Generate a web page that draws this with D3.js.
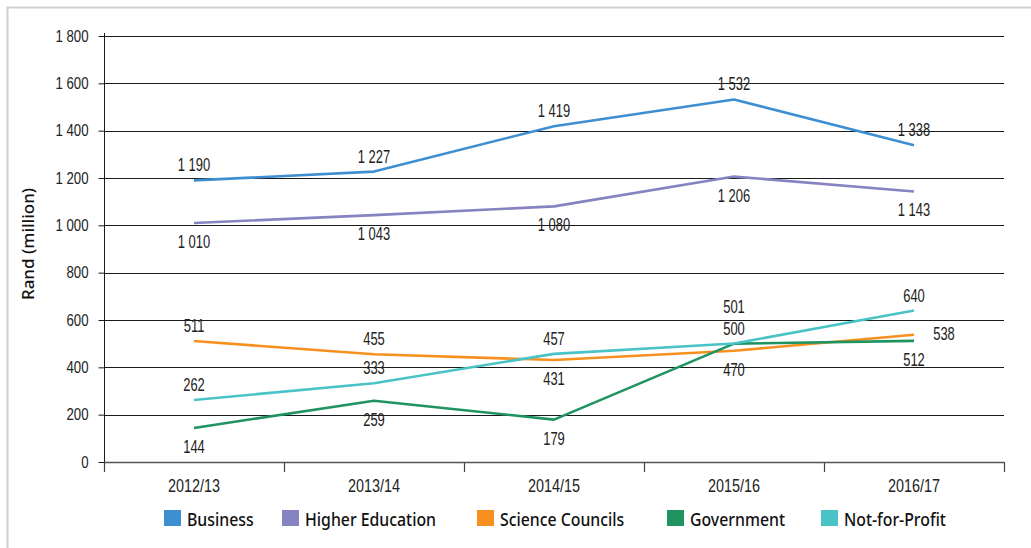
<!DOCTYPE html>
<html><head><meta charset="utf-8">
<script src="https://cdn.jsdelivr.net/npm/d3@7"></script>
<style>
body{margin:0;background:#fff;}
</style></head>
<body><svg id="c" width="1031" height="548"></svg>
<script>
const categories = ["2012/13","2013/14","2014/15","2015/16","2016/17"];
const seriesNames = ["Business","Higher Education","Science Councils","Government","Not-for-Profit"];
const business = [1190,1227,1419,1532,1338];
const higherEducation = [1010,1043,1080,1206,1143];
const scienceCouncils = [511,455,431,470,538];
const government = [144,259,179,500,512];
const notForProfit = [262,333,457,501,640];
const yTicks = [0,200,400,600,800,1000,1200,1400,1600,1800];
// label placement: "a" above, "A" high above, "b" below, "r" right
const labelPos = [
  ["a","a","a","a","a"],
  ["b","b","b","b","b"],
  ["a","a","b","b","r"],
  ["b","b","b","a","b"],
  ["a","a","a","A","a"]
];
const colors = ["#3d8fd1","#8683c1","#f7901e","#1f9460","#4ac3c6"];
const allSeries = [business,higherEducation,scienceCouncils,government,notForProfit];

(function(){
const svg = d3.select("#c");
const fmt = v => d3.format(",")(v).replace(/,/g," ");
const narrow = '"Liberation Sans",Arial,sans-serif';
const SX = 0.72;

// frame
svg.append("path").attr("d","M7.5,1100 V7.5 H1100").attr("fill","none").attr("stroke","#cfcfcf").attr("stroke-width",2);

const pl=104, pr=1004, pt=36, pb=462;
const x = d3.scaleBand().domain(categories).range([pl,pr]);
const y = d3.scaleLinear().domain([0,1800]).range([pb,pt]);

// grid
svg.append("g").selectAll("line").data(yTicks.slice(1)).join("line")
  .attr("x1",pl).attr("x2",pr).attr("y1",d=>Math.round(y(d))+0.5).attr("y2",d=>Math.round(y(d))+0.5)
  .attr("stroke","#1a1a1a").attr("stroke-width",1);

// y axis
const YS = 0.8;
const ya = svg.append("g").attr("transform",`translate(${pl+0.5},0)`)
  .call(d3.axisLeft(y).tickValues(yTicks).tickSize(6).tickFormat(fmt));
ya.select(".domain").attr("stroke","#1a1a1a").attr("d",`M0,${pt-3}V${pb}`);
ya.selectAll(".tick line").attr("stroke","#1a1a1a");
ya.selectAll(".tick text").attr("font-size",16.5).attr("font-family",narrow).attr("fill","#222")
  .attr("x",-16/YS).attr("transform",`scale(${YS},1)`);

// x axis
const xa = svg.append("g").attr("transform",`translate(0,${pb+0.5})`)
  .call(d3.axisBottom(x).tickSize(0).tickPadding(17));
xa.select(".domain").attr("stroke","#555").attr("stroke-width",1.5).attr("d",`M${pl},0H${pr}`);
xa.selectAll(".tick text").attr("font-size",18).attr("font-family",narrow).attr("fill","#222")
  .attr("transform",`scale(0.8,1)`);
const bounds = categories.map(c=>x(c)).concat([pr]);
svg.append("g").selectAll("line").data(bounds).join("line")
  .attr("x1",d=>d+0.5).attr("x2",d=>d+0.5).attr("y1",pb).attr("y2",pb+10)
  .attr("stroke","#444").attr("stroke-width",1.2);

// y title
svg.append("text").attr("transform","translate(34,244) rotate(-90)")
  .attr("text-anchor","middle").attr("font-family","'Noto Sans',sans-serif").attr("font-size",17).attr("font-weight",500)
  .attr("fill","#111").text("Rand (million)");

// lines
const cx = c => x(c)+x.bandwidth()/2;
const line = d3.line().x((d,i)=>cx(categories[i])).y(d=>y(d));
svg.append("g").selectAll("path").data(allSeries).join("path")
  .attr("d",line).attr("fill","none").attr("stroke",(d,i)=>colors[i]).attr("stroke-width",2.6)
  .attr("stroke-linejoin","round");

// labels
const off = {a:-9, A:-30, b:25, r:5};
allSeries.forEach((s,si)=>{
  svg.append("g").selectAll("text").data(s).join("text")
    .attr("transform",(d,i)=>{
      const p=labelPos[si][i];
      const lx = cx(categories[i]) + (p==="r"?30:0);
      const ly = y(d)+off[p];
      return `translate(${lx},${ly}) scale(${SX},1)`;})
    .attr("text-anchor","middle").attr("font-family",narrow).attr("font-size",18).attr("fill","#222")
    .text(d=>fmt(d));
});

// legend
const legX = [164,282,477,667,821];
const lg = svg.append("g").selectAll("g").data(seriesNames).join("g")
  .attr("transform",(d,i)=>`translate(${legX[i]},510)`);
lg.append("rect").attr("width",17).attr("height",16).attr("fill",(d,i)=>colors[i]);
lg.append("text").attr("transform","translate(23,16) scale(0.88,1)").attr("font-family","'Noto Sans',sans-serif").attr("font-size",18).attr("font-weight",500)
  .attr("fill","#111").text(d=>d);
})();
</script></body></html>
